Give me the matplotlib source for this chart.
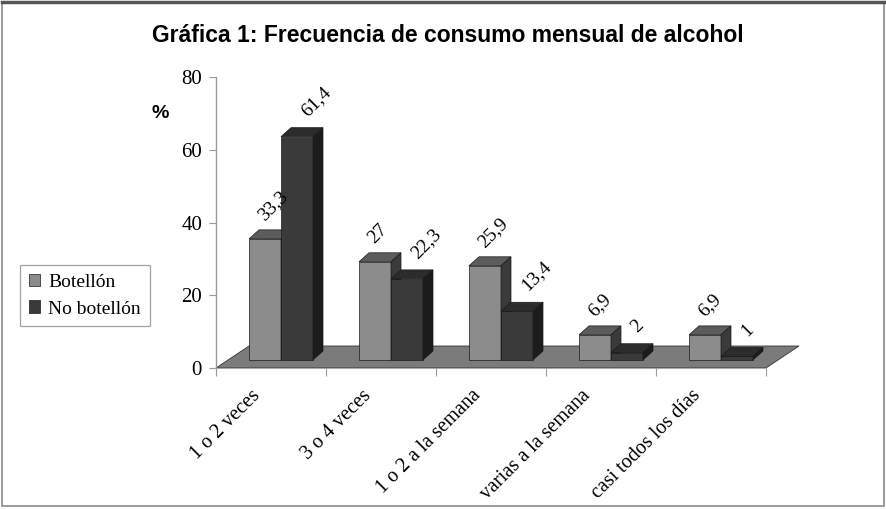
import matplotlib
matplotlib.use("Agg")
import matplotlib.pyplot as plt
from matplotlib.patches import Patch, Rectangle
from matplotlib.lines import Line2D

# ---- data ----
categories = ["1 o 2 veces", "3 o 4 veces", "1 o 2 a la semana",
              "varias a la semana", "casi todos los días"]
botellon = [33.3, 27, 25.9, 6.9, 6.9]
no_botellon = [61.4, 22.3, 13.4, 2, 1]
series_names = ["Botellón", "No botellón"]
y_ticks = [0, 20, 40, 60, 80]
title = "Gráfica 1: Frecuencia de consumo mensual de alcohol"

# ---- style ----
SERIF = ["Liberation Serif", "DejaVu Serif"]
SANS = ["Liberation Sans", "DejaVu Sans"]
c_front = ["#8c8c8c", "#3a3a3a"]
c_top = ["#5c5c5c", "#2c2c2c"]
c_side = ["#3a3a3a", "#1c1c1c"]
c_floor = "#7b7b7b"
edge = "#1a1a1a"

W, H = 886, 509
fig = plt.figure(figsize=(W / 100, H / 100), dpi=100)
ax = fig.add_axes([216 / W, 1 - 368 / H, 550 / W, 291 / H])
ax.set_xlim(0, 5)
ax.set_ylim(0, 80)
ax.patch.set_alpha(0)

pxx = 550 / 5.0      # pixels per x unit
pxy = 291 / 80.0     # pixels per y unit

# floor
fdx, fdy = 33 / pxx, 22 / pxy
n = len(categories)
ax.fill([0, n, n + fdx, fdx], [0, 0, fdy, fdy], color=c_floor,
        ec="#333333", lw=0.6, clip_on=False, zorder=1)

# bars
x0 = 0.30
bw = 32 / pxx
base = 8 / pxy
ddx, ddy = 10 / pxx, 9 / pxy
lab_off = [(-10 / pxx, 6 / pxy), (1 / pxx, 8 / pxy)]

for i in range(n):
    for s, vals in enumerate([botellon, no_botellon]):
        v = vals[i]
        xl = i + x0 + s * bw
        xr = xl + bw
        yt = base + v
        ax.bar(xl, v, width=bw, bottom=base, align="edge", color=c_front[s],
               edgecolor=edge, linewidth=0.5, clip_on=False, zorder=3)
        ax.fill([xl, xr, xr + ddx, xl + ddx], [yt, yt, yt + ddy, yt + ddy],
                color=c_top[s], ec=edge, lw=0.5, clip_on=False, zorder=3)
        ax.fill([xr, xr + ddx, xr + ddx, xr], [base, base + ddy, yt + ddy, yt],
                color=c_side[s], ec=edge, lw=0.5, clip_on=False, zorder=3)
        lab = f"{v:g}".replace(".", ",")
        ox, oy = lab_off[s]
        ax.text(xl + bw / 2 + ox, yt + ddy + oy, lab, rotation=45,
                ha="left", va="bottom", fontsize=14, family=SERIF,
                clip_on=False, zorder=4)

# axes styling
for sp in ["top", "right", "bottom"]:
    ax.spines[sp].set_visible(False)
ax.spines["left"].set_color("#9a9a9a")
ax.spines["left"].set_linewidth(1.0)
ax.set_yticks(y_ticks)
ax.set_yticklabels([str(t) for t in y_ticks], family=SERIF, fontsize=15)
ax.tick_params(axis="y", direction="out", length=5, color="#9a9a9a", pad=5)
ax.set_xticks(range(n + 1))
ax.set_xticklabels([""] * (n + 1))
ax.tick_params(axis="x", direction="out", length=6, color="#9a9a9a")

for i, c in enumerate(categories):
    ax.text(i + 0.5 - 13 / pxx, -25 / pxy, c, rotation=45, rotation_mode="anchor",
            ha="right", va="center", fontsize=14.5, family=SERIF, clip_on=False)

# title, % label
fig.text(448 / W, 1 - 36 / H, title, ha="center", va="center",
         fontsize=16.5, fontweight="bold", family=SANS)
fig.text(160 / W, 1 - 113 / H, "%", ha="center", va="center",
         fontsize=14, fontweight="bold", family=SANS)

# legend
handles = [Patch(facecolor=c_front[s], edgecolor=edge, linewidth=0.5)
           for s in range(2)]
leg = fig.legend(handles, series_names, loc="upper left",
                 bbox_to_anchor=(20 / W, 1 - 265 / H), bbox_transform=fig.transFigure,
                 borderaxespad=0, frameon=True, fancybox=False,
                 prop={"family": SERIF, "size": 14},
                 handlelength=0.6, handleheight=0.6, handletextpad=0.4,
                 borderpad=0.45, labelspacing=0.5)
leg.get_frame().set_edgecolor("#8a8a8a")
leg.get_frame().set_linewidth(0.9)

# figure border
fig.patches.append(Rectangle((2 / W, 3 / H), 1 - 4 / W, 1 - 6 / H,
                             transform=fig.transFigure, fill=False,
                             ec="#8a8a8a", lw=1.2))
fig.lines.append(Line2D([2 / W, 1 - 2 / W], [1 - 2 / H, 1 - 2 / H],
                        transform=fig.transFigure, color="#555555", lw=2.5))

fig.savefig("out.png", dpi=100)
